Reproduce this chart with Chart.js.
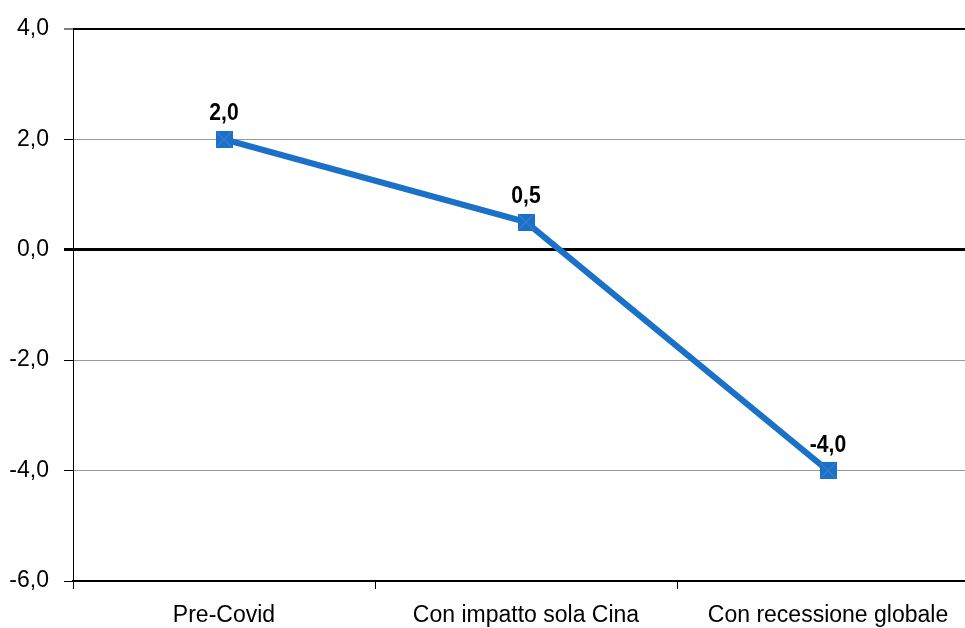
<!DOCTYPE html>
<html>
<head>
<meta charset="utf-8">
<script src="https://cdn.jsdelivr.net/npm/chart.js@4/dist/chart.umd.min.js"></script>
<style>
  html, body { margin: 0; padding: 0; background: #fff; overflow: hidden; }
  canvas { display: block; }
</style>
</head>
<body>
<canvas id="c" width="965" height="628"></canvas>
<script>
// Scenarios and growth estimates (%)
const categories = ['Pre-Covid', 'Con impatto sola Cina', 'Con recessione globale'];
const values = [2.0, 0.5, -4.0];
const yTickValues = [-6, -4, -2, 0, 2, 4];

const FONT = "'Liberation Sans', Arial, sans-serif";
const BLUE = '#1a71c8';
const PLOT_RIGHT = 979; // the plot runs slightly past the canvas edge

const fmt = v => v.toFixed(1).replace('.', ',');

// Square marker with a faint cross inside
function makeMarker(side) {
  const c = document.createElement('canvas');
  c.width = side; c.height = side;
  const g = c.getContext('2d');
  g.fillStyle = BLUE;
  g.fillRect(0, 0, side, side);
  g.strokeStyle = '#5a7fd8';
  g.lineWidth = 1;
  g.beginPath();
  g.moveTo(1, 1); g.lineTo(side - 1, side - 1);
  g.moveTo(side - 1, 1); g.lineTo(1, side - 1);
  g.stroke();
  return c;
}

// Widen the plot area past the right edge before data is positioned
const widenPlot = {
  id: 'widenPlot',
  afterLayout(chart) {
    const ca = chart.chartArea;
    ca.right = PLOT_RIGHT;
    ca.width = ca.right - ca.left;
    const x = chart.scales.x;
    x.right = PLOT_RIGHT;
    x.width = x.right - x.left;
    x.configure();
  }
};

// Value labels above each point (slightly condensed bold type)
const valueLabels = {
  id: 'valueLabels',
  afterDatasetsDraw(chart) {
    const ctx = chart.ctx;
    const meta = chart.getDatasetMeta(0);
    ctx.save();
    ctx.font = `bold 24px ${FONT}`;
    ctx.fillStyle = '#000';
    ctx.textAlign = 'center';
    ctx.textBaseline = 'alphabetic';
    meta.data.forEach((pt, i) => {
      const txt = fmt(chart.data.datasets[0].data[i]);
      const w = ctx.measureText(txt).width;
      ctx.fillText(txt, pt.x, pt.y - 19, w * 0.88);
    });
    ctx.restore();
  }
};

new Chart(document.getElementById('c'), {
  type: 'line',
  data: {
    labels: categories,
    datasets: [{
      data: values,
      borderColor: BLUE,
      backgroundColor: BLUE,
      borderWidth: 6,
      tension: 0,
      pointStyle: makeMarker(17),
      pointRadius: 9,
      pointHoverRadius: 9
    }]
  },
  options: {
    responsive: false,
    animation: false,
    events: [],
    layout: { padding: { top: 28, right: 0, left: 0, bottom: 0 } },
    plugins: { legend: { display: false }, tooltip: { enabled: false } },
    scales: {
      x: {
        offset: true,
        grid: {
          offset: true,
          drawOnChartArea: false,
          drawTicks: true,
          tickLength: 8,
          tickColor: '#000',
          tickWidth: 1
        },
        border: { display: true, color: '#000', width: 2 },
        ticks: {
          color: '#000',
          font: { family: FONT, size: 23 },
          padding: 13,
          maxRotation: 0,
          autoSkip: false
        },
        afterFit(scale) { scale.height = 47; }
      },
      y: {
        min: -6,
        max: 4,
        afterBuildTicks(scale) { scale.ticks = yTickValues.map(v => ({ value: v })); },
        grid: {
          color: ctx => (ctx.tick && (ctx.tick.value === 0 || ctx.tick.value === 4 || ctx.tick.value === -6)) ? '#000' : '#999',
          lineWidth: ctx => {
            if (!ctx.tick) return 1;
            if (ctx.tick.value === 0) return 3;
            if (ctx.tick.value === 4) return 2;
            return 1;
          },
          tickColor: '#000',
          tickWidth: ctx => (ctx.tick && ctx.tick.value === 0) ? 3 : 1,
          tickLength: 9
        },
        border: { display: true, color: '#000', width: 1 },
        ticks: {
          color: '#000',
          font: { family: FONT, size: 23 },
          padding: 15,
          callback: v => fmt(v)
        },
        afterFit(scale) { scale.width = 73; }
      }
    }
  },
  plugins: [widenPlot, valueLabels]
});
</script>
</body>
</html>
